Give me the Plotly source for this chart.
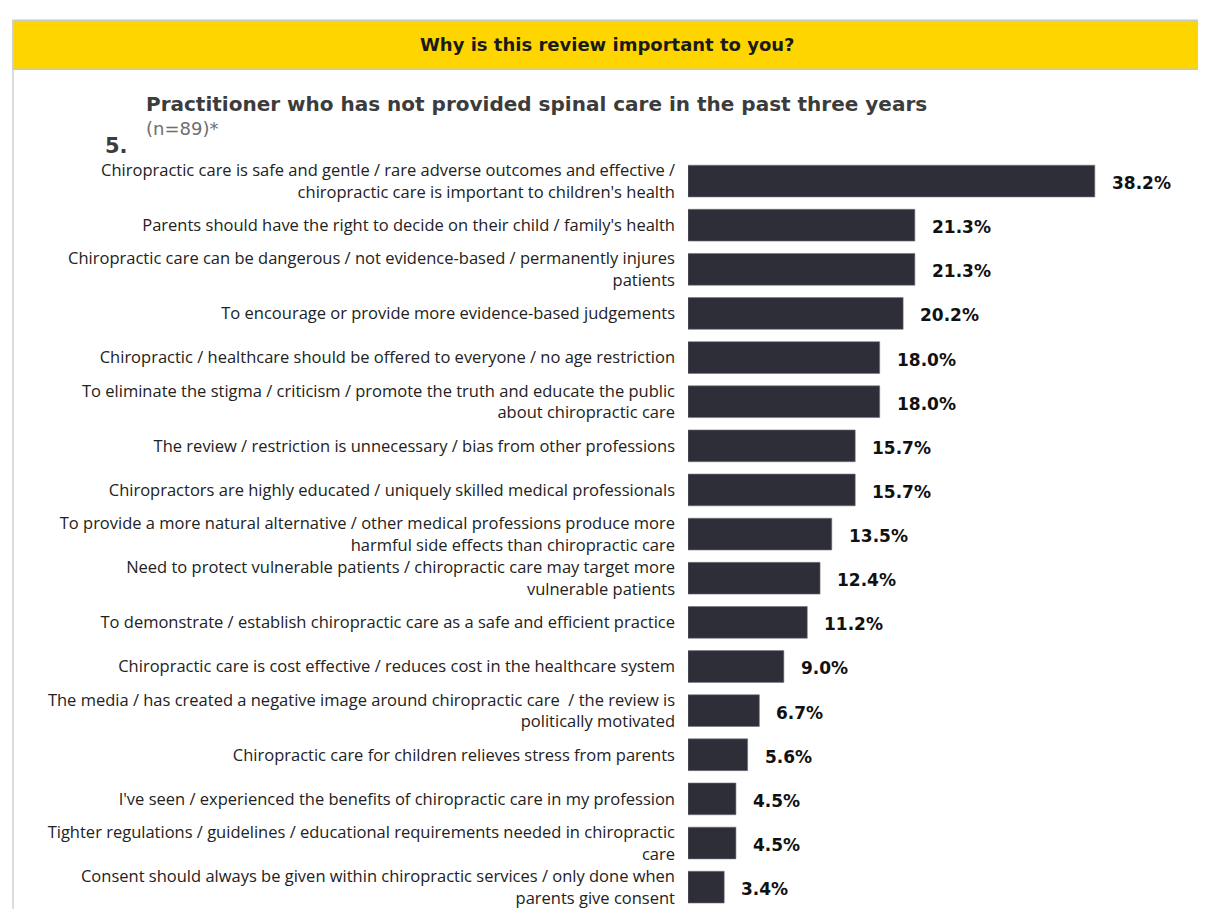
import plotly.graph_objects as go

# survey answers, top to bottom as shown
reasons = [
    "Chiropractic care is safe and gentle / rare adverse outcomes and effective /<br>chiropractic care is important to children's health",
    "Parents should have the right to decide on their child / family's health",
    "Chiropractic care can be dangerous / not evidence-based / permanently injures<br>patients",
    "To encourage or provide more evidence-based judgements",
    "Chiropractic / healthcare should be offered to everyone / no age restriction",
    "To eliminate the stigma / criticism / promote the truth and educate the public<br>about chiropractic care",
    "The review / restriction is unnecessary / bias from other professions",
    "Chiropractors are highly educated / uniquely skilled medical professionals",
    "To provide a more natural alternative / other medical professions produce more<br>harmful side effects than chiropractic care",
    "Need to protect vulnerable patients / chiropractic care may target more<br>vulnerable patients",
    "To demonstrate / establish chiropractic care as a safe and efficient practice",
    "Chiropractic care is cost effective / reduces cost in the healthcare system",
    "The media / has created a negative image around chiropractic care  / the review is<br>politically motivated",
    "Chiropractic care for children relieves stress from parents",
    "I've seen / experienced the benefits of chiropractic care in my profession",
    "Tighter regulations / guidelines / educational requirements needed in chiropractic<br>care",
    "Consent should always be given within chiropractic services / only done when<br>parents give consent",
]
shares = [38.2, 21.3, 21.3, 20.2, 18.0, 18.0, 15.7, 15.7, 13.5, 12.4, 11.2, 9.0, 6.7, 5.6, 4.5, 4.5, 3.4]

banner_title = "Why is this review important to you?"
chart_num = "5."
chart_title = "Practitioner who has not provided spinal care in the past three years"
chart_note = "(n=89)*"

# page has an 8px body margin, so the figure is a bit smaller than the window
OFF = 8
W, H = 1198, 901
ML, MR, MT, MB = 680, 26, 151, 0
PW = W - ML - MR
PH = H - MT - MB


def px(x):
    # page pixel -> paper fraction
    return (x - OFF - ML) / PW


def py(y):
    return (H - (y - OFF)) / PH


ypos = list(range(len(reasons)))

fig = go.Figure()
fig.add_trace(go.Bar(
    x=shares, y=ypos, orientation="h", width=0.72,
    marker=dict(color="#2E2E38", line=dict(color="#75757f", width=0.6)),
    hoverinfo="skip", showlegend=False,
))

for v, yy in zip(shares, ypos):
    fig.add_annotation(x=v, y=yy, xref="x", yref="y", text=f"{v:.1f}%",
                       showarrow=False, xanchor="left", xshift=15, yshift=-2,
                       font=dict(family="DejaVu Sans", size=17, color="#111111", weight="bold"))

# panel frame + yellow banner
fig.add_shape(type="line", xref="paper", yref="paper", x0=px(13), x1=px(13), y0=py(20), y1=py(920),
              line=dict(color="#cfcfcf", width=1.5))
fig.add_shape(type="line", xref="paper", yref="paper", x0=px(1202), x1=px(1202), y0=py(20), y1=py(920),
              line=dict(color="#cfcfcf", width=1.5))
fig.add_shape(type="rect", xref="paper", yref="paper", x0=px(13), x1=px(1202), y0=py(69), y1=py(20),
              fillcolor="#FFD500", line=dict(color="#c8c8c8", width=1.5), layer="below")

fig.add_annotation(x=px(607), y=py(44), xref="paper", yref="paper", text=f"<b>{banner_title}</b>",
                   showarrow=False, xanchor="center", yanchor="middle",
                   font=dict(family="DejaVu Sans", size=18, color="#1a1a1a"))
fig.add_annotation(x=px(103), y=py(146), xref="paper", yref="paper", text=f"<b>{chart_num}</b>",
                   showarrow=False, xanchor="left", yanchor="middle",
                   font=dict(family="DejaVu Sans", size=21, color="#3c3c3c"))
fig.add_annotation(x=px(144), y=py(104), xref="paper", yref="paper", text=f"<b>{chart_title}</b>",
                   showarrow=False, xanchor="left", yanchor="middle",
                   font=dict(family="DejaVu Sans", size=20, color="#3c3c3c"))
fig.add_annotation(x=px(144), y=py(128), xref="paper", yref="paper", text=chart_note,
                   showarrow=False, xanchor="left", yanchor="middle",
                   font=dict(family="DejaVu Sans", size=18, color="#6e6e6e"))

fig.update_layout(
    width=W, height=H,
    margin=dict(l=ML, r=MR, t=MT, b=MB),
    paper_bgcolor="white", plot_bgcolor="white",
    xaxis=dict(range=[0, PW / 10.65], visible=False, fixedrange=True),
    yaxis=dict(range=[16.45, -0.5], tickmode="array", tickvals=ypos, ticktext=reasons,
               showgrid=False, zeroline=False, showline=False, ticks="",
               ticklabelstandoff=12, ticklabeloverflow="allow",
               tickfont=dict(family="Open Sans", size=16.5, color="#222222")),
    bargap=0.28,
)

fig.write_html("out.html")
